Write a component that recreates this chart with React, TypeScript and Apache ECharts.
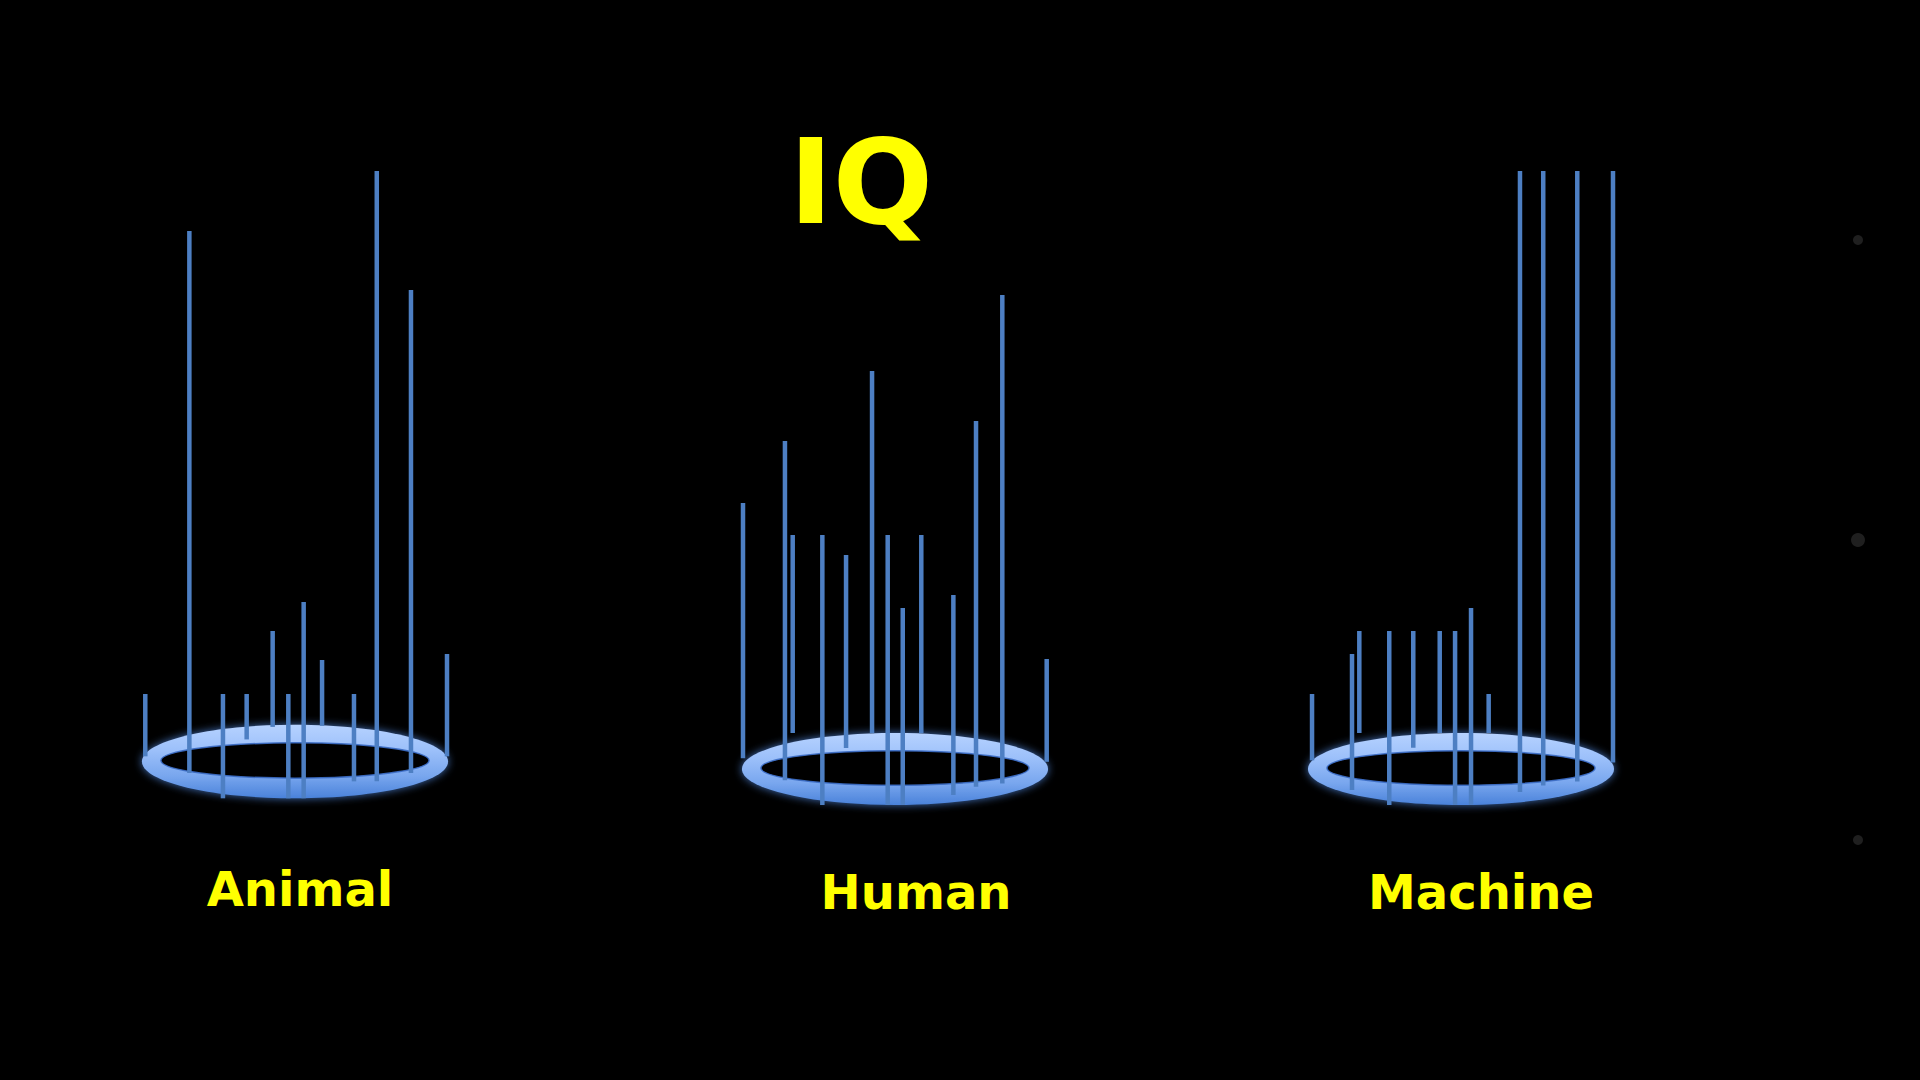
import React, { useEffect, useRef } from "react";
import * as echarts from "echarts";

// ---------- data ----------
const TITLE = "IQ";
const CATEGORIES = ["Animal", "Human", "Machine"];

// position of each stem around the ring (-1 = left end, 1 = right end)
const ANIMAL_POS = [-0.985, -0.695, -0.474, -0.318, -0.147, -0.044, 0.057, 0.178, 0.388, 0.538, 0.763, 1.0];
// depth of each stem on the ring (-1 = back, 1 = front)
const ANIMAL_DEPTH = [-0.14, 0.31, 1.0, -0.6, -0.94, 1.0, 1.0, -0.97, 0.54, 0.54, 0.31, -0.14];
// stem top value
const ANIMAL_IQ = [117, 580, 117, 117, 180, 117, 209, 151, 117, 640, 521, 157];

const HUMAN_POS = [-1.0, -0.724, -0.673, -0.478, -0.322, -0.151, -0.048, 0.051, 0.173, 0.384, 0.533, 0.706, 0.998];
const HUMAN_DEPTH = [-0.3, 0.31, -1.0, 1.0, -0.58, -0.99, 1.0, 1.0, -0.99, 0.72, 0.49, 0.4, -0.2];
const HUMAN_IQ = [308, 370, 276, 276, 256, 440, 276, 203, 276, 216, 390, 516, 152];

const MACHINE_POS = [-0.98, -0.717, -0.669, -0.472, -0.314, -0.14, -0.039, 0.066, 0.182, 0.388, 0.541, 0.765, 1.0];
const MACHINE_DEPTH = [-0.24, 0.58, -1.0, 1.0, -0.59, -1.0, 1.0, 1.0, -1.0, 0.64, 0.46, 0.35, -0.18];
const MACHINE_IQ = [117, 157, 180, 180, 180, 180, 180, 203, 117, 640, 640, 640, 640];

const Y_MAX = 640;

// ---------- layout ----------
const PANEL_LAYOUT = [
  { cx: 295, level: 49.5, ry: 36.8, labelX: 300, labelY: 889 },
  { cx: 895, level: 42, ry: 36, labelX: 916, labelY: 891.5 },
  { cx: 1461, level: 42, ry: 36, labelX: 1481, labelY: 891.5 },
];
const HALF_W = 152;
const GRID_TOP = 171;
const GRID_H = 640;

const SPIKE_COLOR = "#4d7fc3";
const YELLOW = "#ffff00";
const FONT = '"DejaVu Sans", "Liberation Sans", sans-serif';

export default function App() {
  const ref = useRef<HTMLDivElement>(null);

  useEffect(() => {
    document.body.style.margin = "0";
    document.body.style.background = "#000";
    if (!ref.current) return;
    const chart = echarts.init(ref.current, null, { renderer: "svg" });

    const groups = [
      { pos: ANIMAL_POS, depth: ANIMAL_DEPTH, iq: ANIMAL_IQ },
      { pos: HUMAN_POS, depth: HUMAN_DEPTH, iq: HUMAN_IQ },
      { pos: MACHINE_POS, depth: MACHINE_DEPTH, iq: MACHINE_IQ },
    ];

    const grids = PANEL_LAYOUT.map((p) => ({
      left: p.cx - HALF_W,
      width: HALF_W * 2,
      top: GRID_TOP,
      height: GRID_H,
      containLabel: false,
    }));
    const xAxes = PANEL_LAYOUT.map((_, i) => ({
      type: "value",
      gridIndex: i,
      min: -1,
      max: 1,
      show: false,
    }));
    const yAxes = PANEL_LAYOUT.map((_, i) => ({
      type: "value",
      gridIndex: i,
      min: 0,
      max: Y_MAX,
      show: false,
    }));

    const series: any[] = [];
    groups.forEach((g, i) => {
      const lay = PANEL_LAYOUT[i];
      // ring
      series.push({
        type: "custom",
        xAxisIndex: i,
        yAxisIndex: i,
        z: 1,
        clip: false,
        silent: true,
        data: [[0, lay.level]],
        renderItem: (_params: any, api: any) => {
          const c = api.coord([0, lay.level]);
          const sx = api.size([1, 0])[0];
          return {
            type: "group",
            children: [
              {
                type: "ellipse",
                shape: { cx: c[0], cy: c[1], rx: sx * 1.007, ry: lay.ry },
                style: {
                  fill: new echarts.graphic.LinearGradient(0, 0, 0, 1, [
                    { offset: 0, color: "#b6d2ff" },
                    { offset: 0.35, color: "#9cc0fa" },
                    { offset: 0.7, color: "#78a6ee" },
                    { offset: 1, color: "#4a82da" },
                  ]),
                  shadowBlur: 8,
                  shadowColor: "rgba(90,150,245,0.75)",
                },
              },
              {
                type: "ellipse",
                shape: { cx: c[0], cy: c[1] - 1, rx: sx * 0.882, ry: lay.ry * 0.48 },
                style: {
                  fill: "#000",
                  stroke: "rgba(60,110,200,0.9)",
                  lineWidth: 1.5,
                },
              },
            ],
          };
        },
      });
      // stems
      series.push({
        type: "custom",
        xAxisIndex: i,
        yAxisIndex: i,
        z: 2,
        clip: false,
        silent: true,
        data: g.pos.map((p, k) => [p, g.depth[k], g.iq[k]]),
        renderItem: (_params: any, api: any) => {
          const x = api.value(0);
          const d = api.value(1);
          const top = api.value(2);
          const base = api.coord([x, lay.level - d * lay.ry]);
          const tp = api.coord([x, top]);
          return {
            type: "line",
            shape: { x1: base[0], y1: base[1], x2: tp[0], y2: tp[1] },
            style: { stroke: SPIKE_COLOR, lineWidth: 4.5, lineCap: "butt" },
          };
        },
      });
    });

    const graphics: any[] = [
      {
        type: "text",
        x: 861,
        y: 182,
        style: {
          text: TITLE,
          font: `bold 118px ${FONT}`,
          fill: YELLOW,
          align: "center",
          verticalAlign: "middle",
        },
      },
      ...CATEGORIES.map((name, i) => ({
        type: "text",
        x: PANEL_LAYOUT[i].labelX,
        y: PANEL_LAYOUT[i].labelY,
        style: {
          text: name,
          font: `bold 48px ${FONT}`,
          fill: YELLOW,
          align: "center",
          verticalAlign: "middle",
        },
      })),
      { type: "circle", shape: { cx: 1858, cy: 240, r: 5 }, style: { fill: "#1f1f1f" } },
      { type: "circle", shape: { cx: 1858, cy: 540, r: 7 }, style: { fill: "#1f1f1f" } },
      { type: "circle", shape: { cx: 1858, cy: 840, r: 5 }, style: { fill: "#1f1f1f" } },
    ];

    chart.setOption({
      animation: false,
      backgroundColor: "#000",
      grid: grids,
      xAxis: xAxes,
      yAxis: yAxes,
      series,
      graphic: graphics,
    });

    return () => chart.dispose();
  }, []);

  return <div ref={ref} style={{ width: 1920, height: 1080, background: "#000" }} />;
}
